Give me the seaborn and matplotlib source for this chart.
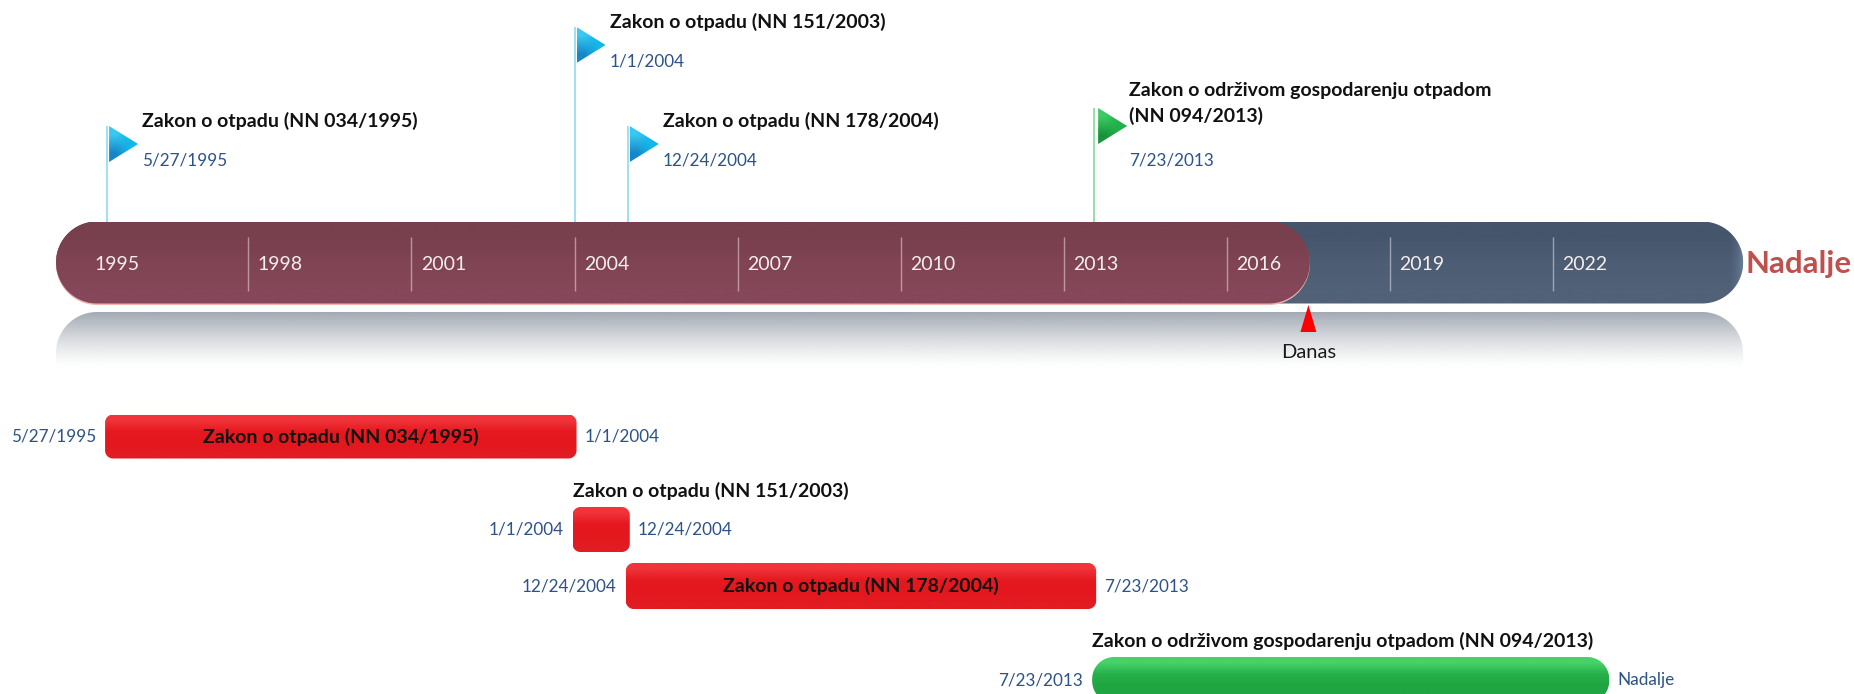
import numpy as np
import pandas as pd
import matplotlib
matplotlib.use("Agg")
import matplotlib.pyplot as plt
from matplotlib.colors import to_rgb
from matplotlib.patches import Polygon
import seaborn as sns

# values
laws = ["Zakon o otpadu (NN 034/1995)", "Zakon o otpadu (NN 151/2003)",
        "Zakon o otpadu (NN 178/2004)", "Zakon o održivom gospodarenju otpadom (NN 094/2013)"]
start_years = [1995.40, 2004.00, 2004.98, 2013.56]
end_years = [2004.00, 2004.98, 2013.56, 2023.00]
start_labels = ["5/27/1995", "1/1/2004", "12/24/2004", "7/23/2013"]
end_labels = ["1/1/2004", "12/24/2004", "7/23/2013", "Nadalje"]
tick_years = [1995, 1998, 2001, 2004, 2007, 2010, 2013, 2016, 2019, 2022]
axis_start = 1994.46
axis_end = 2025.50
today_year = 2017.53

# layout, the y axis runs in pixels from the top
XMIN, XMAX = 1993.43, 2027.54
PX_PER_YEAR = 1854 / (XMAX - XMIN)
row_y = [436.5, 529.5, 586, 680]
row_h = [44, 45, 46, 46]
flag_top = [126, 27, 126, 108]
flag_title = [["Zakon o otpadu (NN 034/1995)"], ["Zakon o otpadu (NN 151/2003)"],
              ["Zakon o otpadu (NN 178/2004)"], ["Zakon o održivom gospodarenju otpadom", "(NN 094/2013)"]]
BLUE_TEXT = "#2c5288"

sns.set_theme(style="white")
plt.rcParams["font.family"] = ["Lato", "DejaVu Sans"]

fig = plt.figure(figsize=(18.54, 6.94), dpi=100)
ax = fig.add_axes([0, 0, 1, 1])


def gradient(x0, x1, y0, y1, clip, stops, zorder):
    img = np.array([[to_rgb(c) for c in row] for row in stops])
    im = ax.imshow(img, extent=(x0, x1, y1, y0), origin="upper", aspect="auto",
                   interpolation="bilinear", zorder=zorder)
    im.set_clip_path(clip)
    return im


def rounded(x0, x1, y0, y1, radius, zorder, **kws):
    # circular corners, the radius is in pixels and x runs in years
    rx = radius / PX_PER_YEAR
    pts = []
    corners = [(x1 - rx, y0 + radius, -90), (x1 - rx, y1 - radius, 0),
               (x0 + rx, y1 - radius, 90), (x0 + rx, y0 + radius, 180)]
    for cx, cy, a0 in corners:
        for a in np.radians(np.linspace(a0, a0 + 90, 24)):
            pts.append((cx + rx * np.cos(a), cy + radius * np.sin(a)))
    patch = Polygon(pts, closed=True, zorder=zorder, **kws)
    ax.add_patch(patch)
    return patch


def gloss_bar(start, end, y, h, radius, stops, zorder=3, pad=0):
    # seaborn places the bar, then it gets round corners and a gradient
    n = len(ax.patches)
    sns.barplot(x=[end - start], y=[y], left=start, orient="y", native_scale=True,
                width=h, color=stops[0], saturation=1, ax=ax)
    bar = ax.patches[n]
    x0 = bar.get_x() - pad / PX_PER_YEAR
    x1 = bar.get_x() + bar.get_width() + pad / PX_PER_YEAR
    y0, y1 = bar.get_y(), bar.get_y() + bar.get_height()
    bar.remove()
    shape = rounded(x0, x1, y0, y1, radius, zorder, fc="none", ec="none")
    gradient(x0, x1, y0, y1, shape, [[c] for c in stops], zorder)
    return shape


# timeline
blue = gloss_bar(axis_start, axis_end, 262.5, 82, 41, ["#45556b", "#4d5d74", "#516177"], 2)
rim = np.ones((1, 32, 4))
rim[:, :, :3] = to_rgb("#7d97b5")
rim[0, :, 3] = np.linspace(0, 0.75, 32) ** 2
rim_im = ax.imshow(rim, extent=(axis_end - 16 / PX_PER_YEAR, axis_end, 303.5, 221.5), origin="upper",
                   aspect="auto", interpolation="bilinear", zorder=2.2)
rim_im.set_clip_path(blue)
rounded(axis_start, today_year, 223.5, 305, 41, 2.5, fc="#f2b3b0", ec="none")
gloss_bar(axis_start, today_year, 262.5, 82, 41, ["#783f4d", "#804454", "#854759"], 3)

# reflection under the timeline
shape = rounded(axis_start, axis_end, 312, 420, 41, 1, fc="none", ec="none")
fade = np.ones((64, 1, 4))
fade[:, 0, :3] = to_rgb("#a3aab4")
fade[:, 0, 3] = np.linspace(1, 0, 64) ** 1.3
refl = ax.imshow(fade, extent=(axis_start, axis_end, 368, 312), origin="upper", aspect="auto",
                 interpolation="bilinear", zorder=1)
refl.set_clip_path(shape)

ax.vlines(tick_years[1:], 237, 291, color="white", alpha=0.45, lw=1, zorder=4)
for year in tick_years:
    ax.annotate(str(year), (year, 264), xytext=(9.5, 0), textcoords="offset pixels",
                color="#f4eeee", fontsize=14, va="center", zorder=5)

ax.annotate("Nadalje", (axis_end, 264), xytext=(2, 0), textcoords="offset pixels",
            color="#c0504d", fontsize=22.5, fontweight="bold", va="center", zorder=5)

# today marker
mark = today_year - 1.5 / PX_PER_YEAR
ax.add_patch(Polygon([(mark - 8 / PX_PER_YEAR, 332), (mark, 305),
                      (mark + 8 / PX_PER_YEAR, 332)], fc="#fe0000", ec="none", zorder=4))
ax.annotate("Danas", (mark, 352), color="#1a1a1a", fontsize=14.5, ha="center", va="center", zorder=5)

# flags
for i, year in enumerate(start_years):
    is_green = i == 3
    ax.vlines(year, flag_top[i], 222, color="#8fdca0" if is_green else "#9adcf2", lw=1.3, zorder=1)
    x0 = year + (4 if is_green else 2) / PX_PER_YEAR
    x1 = x0 + 29 / PX_PER_YEAR
    y0, y1 = flag_top[i], flag_top[i] + 36
    tri = Polygon([(x0, y0), (x1, (y0 + y1) / 2), (x0, y1)], fc="none", ec="none", zorder=3)
    ax.add_patch(tri)
    if is_green:
        stops = [["#3ccb63", "#22b14c"], ["#17933b", "#22b14c"]]
    else:
        stops = [["#38c8f0", "#0fb8ea"], ["#1686c8", "#0fb8ea"]]
    gradient(x0, x1, y0, y1, tri, stops, 3)

    lines = flag_title[i]
    centers = [flag_top[i] - 5] if len(lines) == 1 else [90, 116]
    for line, yc in zip(lines, centers):
        ax.annotate(line, (year, yc), xytext=(35, 0), textcoords="offset pixels",
                    color="#111111", fontsize=14, fontweight="bold", va="center", zorder=5)
    ax.annotate(start_labels[i], (year, flag_top[i] + 34 if i != 3 else 160), xytext=(35, 0),
                textcoords="offset pixels", color=BLUE_TEXT, fontsize=12.3, va="center", zorder=5)

# law bars
red = ["#f0343a", "#e5191f", "#e4171d", "#e11c22"]
green = ["#46d268", "#27b04a", "#1fa642", "#1fa642"]
for i, law in enumerate(laws):
    radius = 22 if i == 3 else 8
    gloss_bar(start_years[i], end_years[i], row_y[i], row_h[i], radius, green if i == 3 else red, pad=2)
    ax.annotate(start_labels[i], (start_years[i], row_y[i]), xytext=(-11, 0), textcoords="offset pixels",
                color=BLUE_TEXT, fontsize=12.3, ha="right", va="center", zorder=5)
    ax.annotate(end_labels[i], (end_years[i], row_y[i]), xytext=(10, 0), textcoords="offset pixels",
                color=BLUE_TEXT, fontsize=12.3, va="center", zorder=5)
    if i in (0, 2):
        ax.text((start_years[i] + end_years[i]) / 2, row_y[i], law, color="#111111", fontsize=14,
                fontweight="bold", ha="center", va="center", zorder=5)
    else:
        ax.annotate(law, (start_years[i], row_y[i] - row_h[i] / 2 - 16), xytext=(-2, 0),
                    textcoords="offset pixels", color="#111111", fontsize=14,
                    fontweight="bold", va="center", zorder=5)

ax.set_xlim(XMIN, XMAX)
ax.set_ylim(694, 0)
ax.set_axis_off()

fig.savefig("out.png", dpi=100, facecolor="white")
